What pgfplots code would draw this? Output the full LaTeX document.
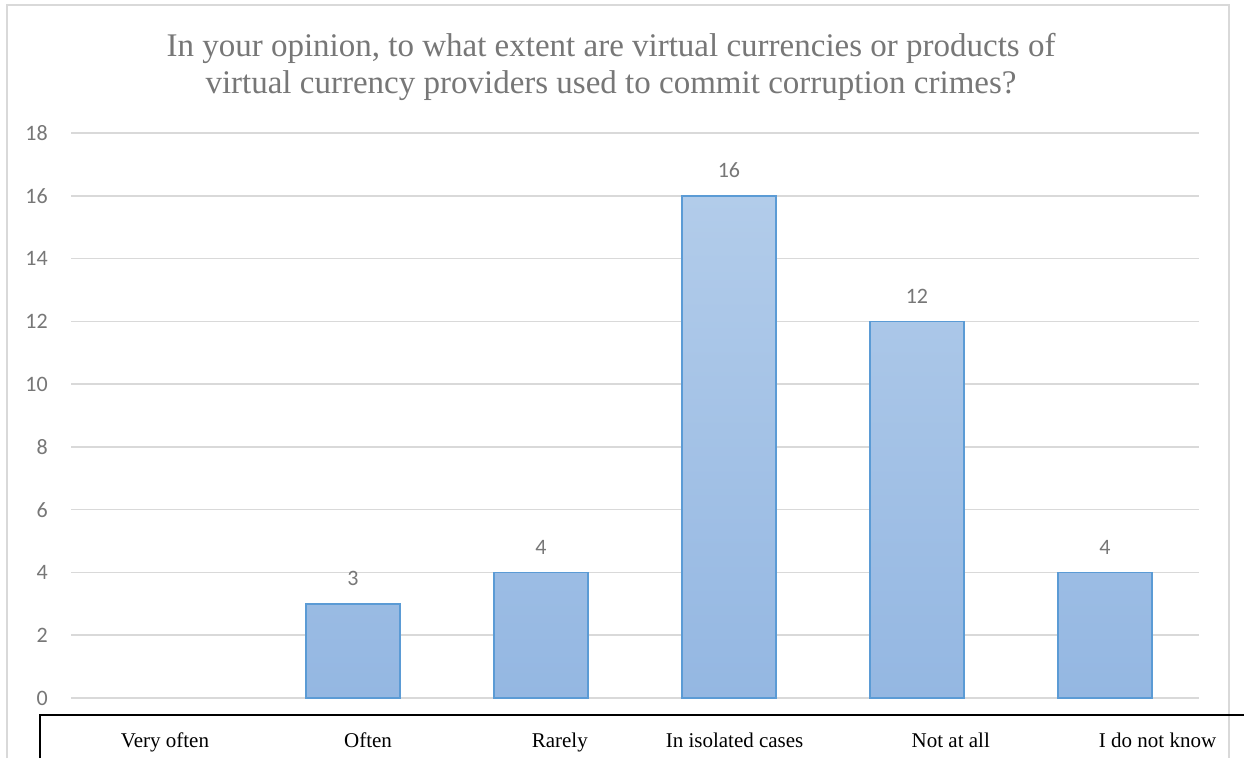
\documentclass[border=0pt]{standalone}
\usepackage{pgfplots}
\pgfplotsset{compat=1.18}
\usepackage{fontspec}
\setmainfont{Liberation Serif}
\newfontfamily\carlito{Carlito}
\definecolor{gridc}{HTML}{D9D9D9}
\definecolor{txtgray}{HTML}{777777}
\definecolor{bartop}{HTML}{B2CCEA}
\definecolor{barbot}{HTML}{94B7E2}
\definecolor{baredge}{HTML}{5B9BD5}
\begin{document}
\begin{tikzpicture}[x=1pt,y=1pt]
\useasboundingbox (0,0) rectangle (1244,758);
\fill[white] (0,0) rectangle (1244,758);
% outer chart border
\draw[gridc,line width=1.5pt] (7,0) -- (7,753) -- (1229,753) -- (1229,0);
% title
\node[anchor=base,text=txtgray,font=\fontsize{33}{38}\selectfont,inner sep=0] at (611,701) {In your opinion, to what extent are virtual currencies or products of};
\node[anchor=base,text=txtgray,font=\fontsize{33}{38}\selectfont,inner sep=0] at (611,664) {virtual currency providers used to commit corruption crimes?};
% bottom table box
\draw[black,line width=1.2pt] (40,0) -- (40,43) -- (1244,43);
\begin{axis}[
  at={(71pt,60pt)}, anchor=south west,
  scale only axis, width=1128pt, height=565pt,
  xmin=-0.5, xmax=5.5, ymin=0, ymax=18,
  ytick={0,2,...,18},
  xtick={0,1.08,2.1,3.03,4.18,5.28},
  xticklabels={Very often,Often,Rarely,In isolated cases,Not at all,I do not know},
  major tick length=0pt,
  axis line style={draw=none},
  ymajorgrids, grid style={gridc,line width=1.5pt},
  /pgf/number format/assume math mode=true,
  yticklabel style={font=\carlito\fontsize{22}{26}\selectfont,text=txtgray,inner sep=0pt,anchor=east,xshift=-23pt},
  xticklabel style={font=\fontsize{21}{25}\selectfont,text=black,inner sep=0pt,anchor=base,yshift=-49pt},
  clip=false,
  nodes near coords,
  every node near coord/.append style={font=\carlito\fontsize{22}{26}\selectfont,text=txtgray,inner sep=0pt,anchor=south,yshift=17pt},
]
\addplot[ybar, bar width=94pt, draw=baredge, line width=1.5pt, top color=bartop, bottom color=barbot]
  coordinates {(1,3) (2,4) (3,16) (4,12) (5,4)};
\end{axis}
\end{tikzpicture}
\end{document}
